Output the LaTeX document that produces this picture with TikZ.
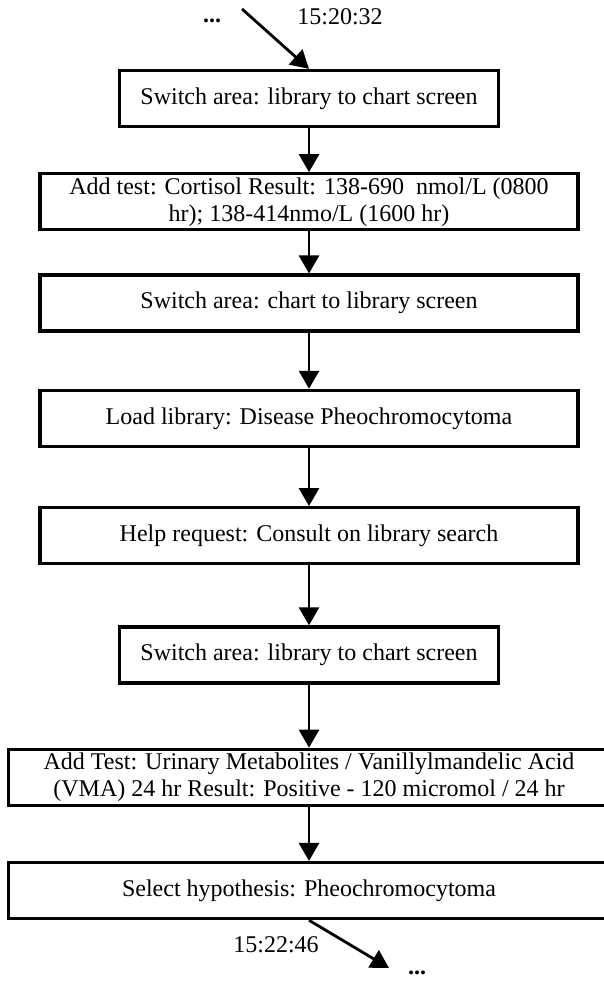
\documentclass[tikz,border=0pt]{standalone}
\usepackage{fontspec}
\setmainfont{Liberation Serif}
\usetikzlibrary{arrows.meta,positioning}

\begin{document}
\begin{tikzpicture}[
    x=1pt, y=1pt,
    >={Triangle[length=18pt,width=20pt]},
    stepbox/.style={draw, line width=3.3pt, minimum height=56pt, align=center, inner sep=2pt, font=\fontsize{24}{27}\selectfont},
    narrow/.style={stepbox, minimum width=379pt},
    wide/.style={stepbox, minimum width=538pt},
    full/.style={stepbox, minimum width=601pt},
    flow/.style={->, line width=2.8pt},
    note/.style={font=\fontsize{24}{27}\selectfont},
    dots/.style={font=\fontsize{24}{27}\selectfont\bfseries, anchor=base, inner sep=0pt}
]
\useasboundingbox (0,0) rectangle (603,-981);

\node[narrow] (libchartA) at (309,-98.5) {Switch area: library to chart screen};
\node[wide, below=44pt of libchartA] (cortisol) {Add test: Cortisol Result: 138-690 \ nmol/L (0800\\hr); 138-414nmo/L (1600 hr)};
\node[wide, below=42pt of cortisol] (chartlib) {Switch area: chart to library screen};
\node[wide, below=56pt of chartlib] (loadlib) {Load library: Disease Pheochromocytoma};
\node[wide, below=58pt of loadlib] (help) {Help request: Consult on library search};
\node[narrow, below=60pt of help] (libchartB) {Switch area: library to chart screen};
\node[full, below=63pt of libchartB] (vma) {Add Test: Urinary Metabolites / Vanillylmandelic Acid\\(VMA) 24 hr Result: Positive - 120 micromol / 24 hr};
\node[full, below=54pt of vma] (hypo) {Select hypothesis: Pheochromocytoma};

% entry and exit of the excerpt
\coordinate (entry) at (242,-9);
\coordinate (exit) at (389,-968);
\node[dots] (dotsin) at (212,-23) {...};
\node[note] (timein) at (340,-17) {15:20:32};
\node[note] (timeout) at (276,-945) {15:22:46};
\node[dots] (dotsout) at (417,-974) {...};

\draw[flow] (entry) -- (libchartA.north);
\draw[flow] (libchartA) -- (cortisol);
\draw[flow] (cortisol) -- (chartlib);
\draw[flow] (chartlib) -- (loadlib);
\draw[flow] (loadlib) -- (help);
\draw[flow] (help) -- (libchartB);
\draw[flow] (libchartB) -- (vma);
\draw[flow] (vma) -- (hypo);
\draw[flow] (hypo.south) -- (exit);
\end{tikzpicture}
\end{document}
